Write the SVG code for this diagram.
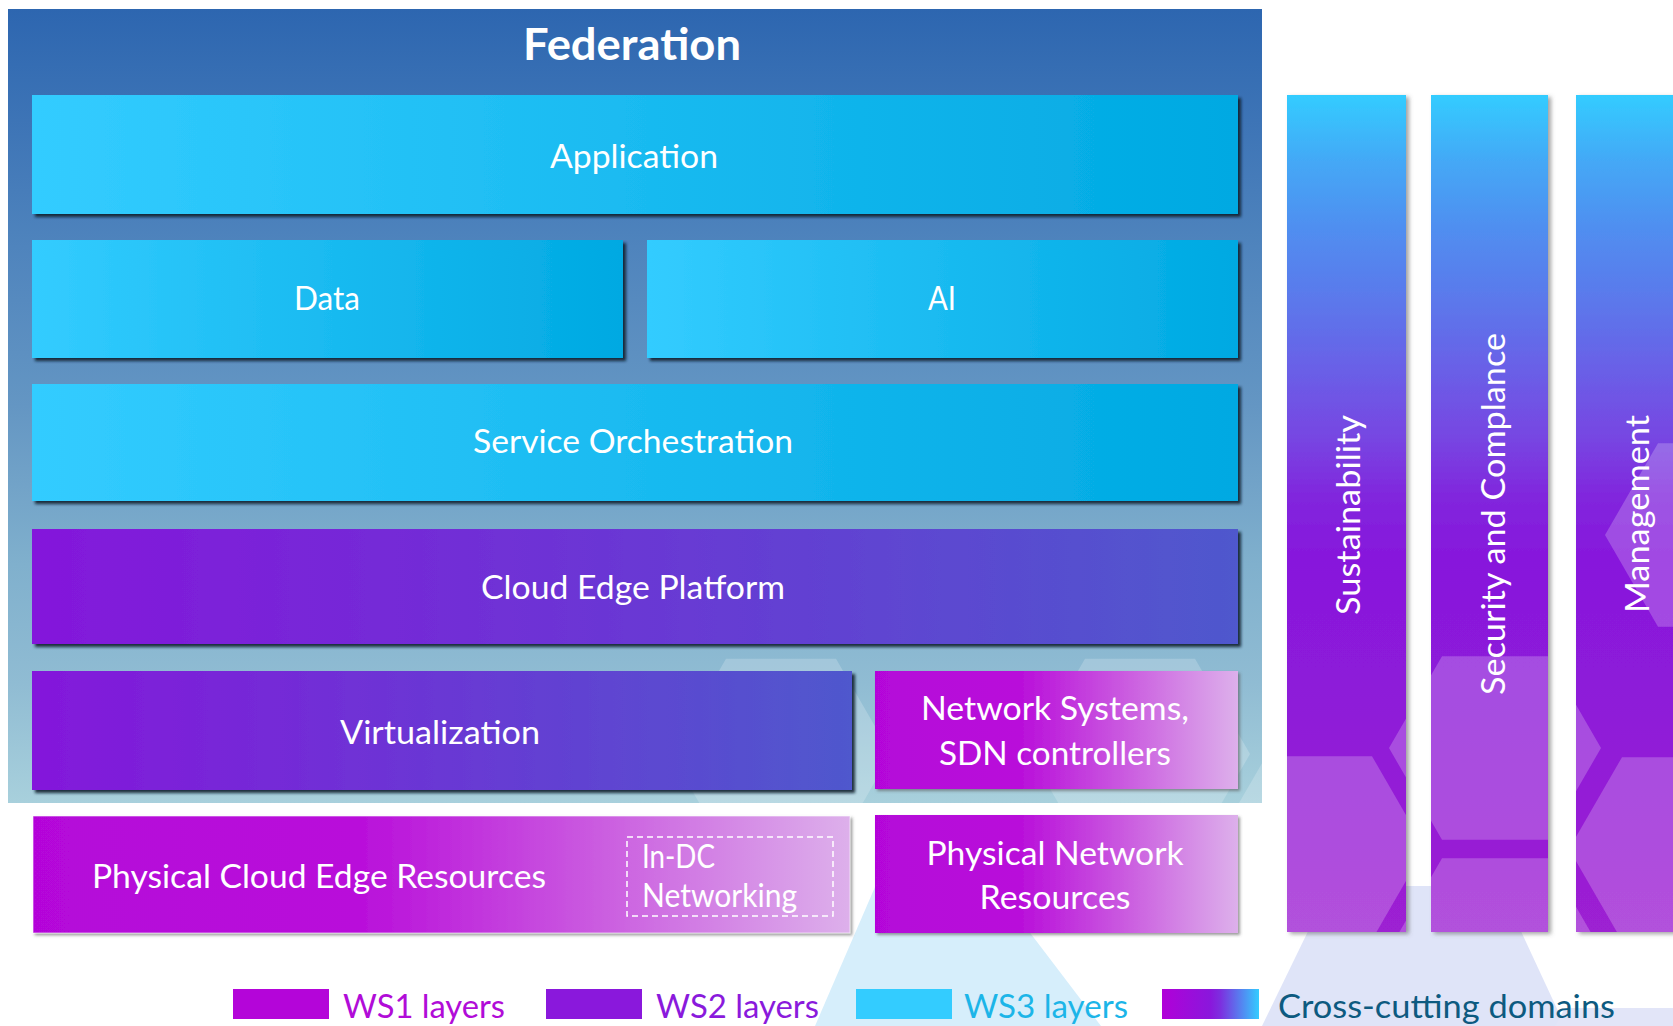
<svg xmlns="http://www.w3.org/2000/svg" width="1673" height="1026" viewBox="0 0 1673 1026">
  <style>
    .lbl { font-family: Lato, "Liberation Sans", sans-serif; font-size: 32px; fill: #ffffff; }
    .title { font-family: Lato, "Liberation Sans", sans-serif; font-size: 43px; font-weight: 700; fill: #ffffff; }
    .leg { font-family: Lato, "Liberation Sans", sans-serif; font-size: 32px; }
    .hexw { fill: #ffffff; fill-opacity: 0.2; }
    .hexc { fill: #ffffff; fill-opacity: 0.22; }
  </style>
  <defs>
    <linearGradient id="gFed" x1="0" y1="0" x2="0" y2="1">
      <stop offset="0" stop-color="#2d66b0"/>
      <stop offset="0.3" stop-color="#4f84bd"/>
      <stop offset="0.5" stop-color="#6496c3"/>
      <stop offset="0.7" stop-color="#80b0cd"/>
      <stop offset="0.85" stop-color="#90bcd3"/>
      <stop offset="1" stop-color="#a8d0dc"/>
    </linearGradient>
    <linearGradient id="gWS3" x1="0" y1="0" x2="1" y2="0">
      <stop offset="0" stop-color="#33ccff"/>
      <stop offset="1" stop-color="#00a9e2"/>
    </linearGradient>
    <linearGradient id="gWS2" x1="0" y1="0" x2="1" y2="0">
      <stop offset="0" stop-color="#8417db"/>
      <stop offset="1" stop-color="#4f58cd"/>
    </linearGradient>
    <linearGradient id="gWS1" x1="0" y1="0" x2="1" y2="0">
      <stop offset="0" stop-color="#b406d9"/>
      <stop offset="0.4" stop-color="#b90fda"/>
      <stop offset="0.7" stop-color="#cb5ee0"/>
      <stop offset="1" stop-color="#ddb0eb"/>
    </linearGradient>
    <linearGradient id="gCol" x1="0" y1="0" x2="0" y2="1">
      <stop offset="0" stop-color="#33ccff"/>
      <stop offset="0.08" stop-color="#44a8f6"/>
      <stop offset="0.16" stop-color="#508ef0"/>
      <stop offset="0.25" stop-color="#5c77eb"/>
      <stop offset="0.33" stop-color="#6a5fe7"/>
      <stop offset="0.41" stop-color="#7746e2"/>
      <stop offset="0.48" stop-color="#8126dd"/>
      <stop offset="0.55" stop-color="#8718dc"/>
      <stop offset="0.75" stop-color="#8f1bd8"/>
      <stop offset="1" stop-color="#9d20d2"/>
    </linearGradient>
    <linearGradient id="gCross" x1="0" y1="0" x2="1" y2="0">
      <stop offset="0" stop-color="#b100d8"/>
      <stop offset="0.5" stop-color="#8a17dc"/>
      <stop offset="0.6" stop-color="#7d2edf"/>
      <stop offset="1" stop-color="#33ccff"/>
    </linearGradient>
    <filter id="shDark" x="-3%" y="-5%" width="106%" height="115%">
      <feDropShadow dx="3" dy="3" stdDeviation="1.5" flood-color="#0b1b2e" flood-opacity="0.9"/>
    </filter>
    <filter id="shLight" x="-3%" y="-5%" width="106%" height="115%">
      <feDropShadow dx="2" dy="2" stdDeviation="1.5" flood-color="#555555" flood-opacity="0.6"/>
    </filter>
    <filter id="shCol" x="-10%" y="-2%" width="120%" height="104%">
      <feDropShadow dx="3" dy="2" stdDeviation="2" flood-color="#555555" flood-opacity="0.55"/>
    </filter>
    <clipPath id="clipFed">
      <rect x="8" y="9" width="1254" height="794"/>
    </clipPath>
    <clipPath id="clipCols">
      <rect x="1287" y="95" width="119" height="837"/>
      <rect x="1431" y="95" width="117" height="837"/>
      <rect x="1576" y="95" width="119" height="837"/>
    </clipPath>
  </defs>

  <rect x="0" y="0" width="1673" height="1026" fill="#ffffff"/>

  <!-- decorative background hexagons -->
  <g id="bg-hexagons">
    <polygon points="815,1026 878,880 990,880 1101,1026" fill="#d6eefb"/>
    <polygon points="1262,1026 1330,886 1500,886 1565,1026" fill="#dfe4f8"/>
    <polygon points="1555,1026 1565,1008 1673,1008 1673,1026" fill="#e2e5f8"/>
  </g>

  <!-- Federation container -->
  <g id="federation">
    <rect x="8" y="9" width="1254" height="794" fill="url(#gFed)"/>
    <g clip-path="url(#clipFed)">
      <polygon class="hexw" points="671,754 726,658.7 836,658.7 891,754 836,849.3 726,849.3"/>
      <polygon class="hexw" points="1030,754 1085,658.7 1195,658.7 1250,754 1195,849.3 1085,849.3"/>
      <polygon class="hexw" points="1213,848 1266,756.2 1372,756.2 1425,848 1372,939.8 1266,939.8"/>
    </g>
    <text class="title" x="632" y="60" text-anchor="middle" textLength="218" lengthAdjust="spacingAndGlyphs">Federation</text>
  </g>

  <!-- Cross-cutting columns -->
  <g id="columns">
    <g filter="url(#shCol)">
      <rect x="1287" y="95" width="119" height="837" fill="url(#gCol)"/>
      <rect x="1431" y="95" width="117" height="837" fill="url(#gCol)"/>
      <rect x="1576" y="95" width="119" height="837" fill="url(#gCol)"/>
    </g>
    <g clip-path="url(#clipCols)">
      <polygon class="hexc" points="1389,748 1442,656.2 1548,656.2 1601,748 1548,839.8 1442,839.8"/>
      <polygon class="hexc" points="1389,950 1442,858.2 1548,858.2 1601,950 1548,1041.8 1442,1041.8"/>
      <polygon class="hexc" points="1213,848 1266,756.2 1372,756.2 1425,848 1372,939.8 1266,939.8"/>
      <polygon class="hexc" points="1569,849 1622,757.2 1728,757.2 1781,849 1728,940.8 1622,940.8"/>
      <polygon class="hexc" points="1605,535 1658,443.2 1764,443.2 1817,535 1764,626.8 1658,626.8"/>
    </g>
  </g>
  <g id="sustainability">
    <text class="lbl" transform="translate(1360,515) rotate(-90)" text-anchor="middle" textLength="200" lengthAdjust="spacingAndGlyphs">Sustainability</text>
  </g>
  <g id="security">
    <text class="lbl" transform="translate(1505,514) rotate(-90)" text-anchor="middle" textLength="362" lengthAdjust="spacingAndGlyphs">Security and Complance</text>
  </g>
  <g id="management">
    <text class="lbl" transform="translate(1649,514) rotate(-90)" text-anchor="middle" textLength="198" lengthAdjust="spacingAndGlyphs">Management</text>
  </g>

  <!-- WS3 layers -->
  <g id="application">
    <rect x="32" y="95" width="1206" height="119" fill="url(#gWS3)" filter="url(#shDark)"/>
    <text class="lbl" x="634" y="168" text-anchor="middle" textLength="168" lengthAdjust="spacingAndGlyphs">Application</text>
  </g>
  <g id="data">
    <rect x="32" y="240" width="591" height="118" fill="url(#gWS3)" filter="url(#shDark)"/>
    <text class="lbl" x="327" y="310" text-anchor="middle" textLength="66" lengthAdjust="spacingAndGlyphs">Data</text>
  </g>
  <g id="ai">
    <rect x="647" y="240" width="591" height="118" fill="url(#gWS3)" filter="url(#shDark)"/>
    <text class="lbl" x="942" y="310" text-anchor="middle" textLength="28" lengthAdjust="spacingAndGlyphs">AI</text>
  </g>
  <g id="service-orchestration">
    <rect x="32" y="384" width="1206" height="117" fill="url(#gWS3)" filter="url(#shDark)"/>
    <text class="lbl" x="633" y="453" text-anchor="middle" textLength="320" lengthAdjust="spacingAndGlyphs">Service Orchestration</text>
  </g>

  <!-- WS2 layers -->
  <g id="cloud-edge-platform">
    <rect x="32" y="529" width="1206" height="115" fill="url(#gWS2)" filter="url(#shDark)"/>
    <text class="lbl" x="633" y="599" text-anchor="middle" textLength="304" lengthAdjust="spacingAndGlyphs">Cloud Edge Platform</text>
  </g>
  <g id="virtualization">
    <rect x="32" y="671" width="820" height="119" fill="url(#gWS2)" filter="url(#shDark)"/>
    <text class="lbl" x="440" y="744" text-anchor="middle" textLength="200" lengthAdjust="spacingAndGlyphs">Virtualization</text>
  </g>

  <!-- WS1 layers -->
  <g id="network-systems">
    <rect x="875" y="671" width="363" height="118" fill="url(#gWS1)" filter="url(#shLight)"/>
    <text class="lbl" x="1055" y="720" text-anchor="middle" textLength="268" lengthAdjust="spacingAndGlyphs">Network Systems,</text>
    <text class="lbl" x="1055" y="765" text-anchor="middle" textLength="232" lengthAdjust="spacingAndGlyphs">SDN controllers</text>
  </g>
  <g id="physical-cloud-edge">
    <rect x="33" y="816" width="817" height="117" fill="url(#gWS1)" stroke="#ffffff" stroke-opacity="0.6" stroke-width="1" filter="url(#shLight)"/>
    <text class="lbl" x="92" y="888" textLength="454" lengthAdjust="spacingAndGlyphs">Physical Cloud Edge Resources</text>
    <g id="in-dc-networking">
      <rect x="627" y="837" width="206" height="79" fill="none" stroke="#ffffff" stroke-width="1.5" stroke-dasharray="6 4"/>
      <text class="lbl" x="642" y="868" textLength="73" lengthAdjust="spacingAndGlyphs">In-DC</text>
      <text class="lbl" x="642" y="907" textLength="155" lengthAdjust="spacingAndGlyphs">Networking</text>
    </g>
  </g>
  <g id="physical-network">
    <rect x="875" y="815" width="363" height="118" fill="url(#gWS1)" filter="url(#shLight)"/>
    <text class="lbl" x="1055" y="865" text-anchor="middle" textLength="257" lengthAdjust="spacingAndGlyphs">Physical Network</text>
    <text class="lbl" x="1055" y="909" text-anchor="middle" textLength="151" lengthAdjust="spacingAndGlyphs">Resources</text>
  </g>

  <!-- Legend -->
  <g id="legend">
    <rect x="233" y="989" width="96" height="30" fill="#b405d9"/>
    <text class="leg" x="343" y="1018" fill="#b10cd8" textLength="162" lengthAdjust="spacingAndGlyphs">WS1 layers</text>
    <rect x="546" y="989" width="96" height="30" fill="#8a18dc"/>
    <text class="leg" x="656" y="1018" fill="#8a1adc" textLength="163" lengthAdjust="spacingAndGlyphs">WS2 layers</text>
    <rect x="856" y="989" width="96" height="30" fill="#33ccff"/>
    <text class="leg" x="964" y="1018" fill="#1cb5e8" textLength="164" lengthAdjust="spacingAndGlyphs">WS3 layers</text>
    <rect x="1162" y="989" width="97" height="30" fill="url(#gCross)"/>
    <text class="leg" x="1278" y="1018" fill="#0d5a80" textLength="337" lengthAdjust="spacingAndGlyphs">Cross-cutting domains</text>
  </g>

  <g id="connectors"></g>
</svg>
